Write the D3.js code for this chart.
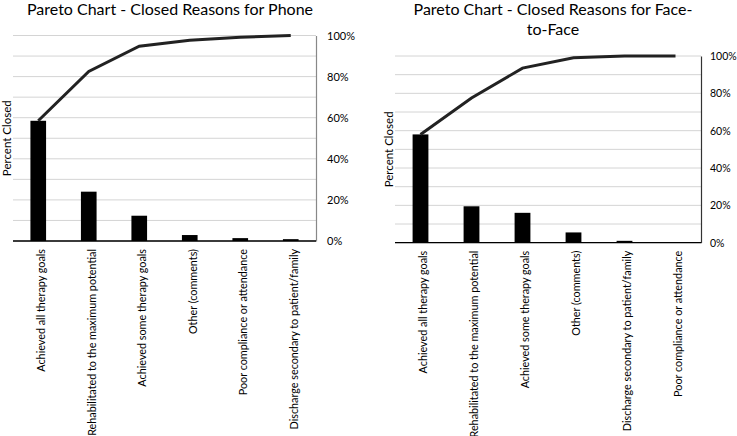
<!DOCTYPE html>
<html>
<head>
<meta charset="utf-8">
<script src="https://cdn.jsdelivr.net/npm/d3@7"></script>
<style>
  body { margin: 0; background: #fff; }
  svg { font-family: Lato, "Open Sans", sans-serif; }
</style>
</head>
<body>
<svg width="737" height="436"></svg>
<script>
// phone chart
var phoneReasons = ["Achieved all therapy goals", "Rehabilitated to the maximum potential",
    "Achieved some therapy goals", "Other (comments)", "Poor compliance or attendance",
    "Discharge secondary to patient/family"];
var phoneValues = [58.5, 24, 12.3, 2.9, 1.4, 0.9];

// face-to-face chart
var faceReasons = ["Achieved all therapy goals", "Rehabilitated to the maximum potential",
    "Achieved some therapy goals", "Other (comments)", "Discharge secondary to patient/family",
    "Poor compliance or attendance"];
var faceValues = [58, 19.5, 16, 5.5, 1, 0];

var pctTicks = [0, 20, 40, 60, 80, 100];
var gridTicks = d3.range(0, 101, 10);

var svg = d3.select("svg");

function pareto(opts) {
    var g = svg.append("g");

    var x = d3.scaleBand()
        .domain(opts.reasons)
        .range([opts.left, opts.right])
        .paddingInner(0.69)
        .paddingOuter(0.345);

    var y = d3.scaleLinear()
        .domain([0, 100])
        .range([opts.bottom, opts.top]);

    // gridlines
    g.selectAll("line.grid")
        .data(gridTicks)
        .enter()
        .append("line")
        .attr("class", "grid")
        .attr("x1", opts.left)
        .attr("x2", opts.right)
        .attr("y1", function(d) { return y(d); })
        .attr("y2", function(d) { return y(d); })
        .attr("stroke", "#d4d4d4")
        .attr("stroke-width", 1);

    // bars
    g.selectAll("rect")
        .data(opts.values)
        .enter()
        .append("rect")
        .attr("x", function(d, i) { return x(opts.reasons[i]); })
        .attr("width", x.bandwidth())
        .attr("y", function(d) { return y(d); })
        .attr("height", function(d) { return y(0) - y(d); })
        .attr("fill", "#000");

    // cumulative line
    var cum = 0;
    var cumData = opts.values.map(function(v, i) {
        cum += v;
        return { name: opts.reasons[i], c: cum };
    });
    var line = d3.line()
        .x(function(d) { return x(d.name) + x.bandwidth() / 2; })
        .y(function(d) { return y(d.c); });
    g.append("path")
        .datum(cumData)
        .attr("d", line)
        .attr("fill", "none")
        .attr("stroke", "#222")
        .attr("stroke-width", 3);

    // right axis
    var yAxis = d3.axisRight(y)
        .tickValues(pctTicks)
        .tickSize(0)
        .tickPadding(opts.tickPad)
        .tickFormat(function(d) { return d + "%"; });
    var ya = g.append("g")
        .attr("transform", "translate(" + opts.right + ",0)")
        .call(yAxis);
    ya.select(".domain").attr("stroke", opts.axisColor).attr("stroke-width", 1.2);
    ya.selectAll("text")
        .attr("font-size", opts.tickFont)
        .attr("font-family", "Lato, 'Open Sans', sans-serif")
        .attr("fill", "#000");

    // bottom axis
    var xAxis = d3.axisBottom(x).tickSize(0).tickPadding(0);
    var xa = g.append("g")
        .attr("transform", "translate(0," + opts.bottom + ")")
        .call(xAxis);
    xa.select(".domain").attr("stroke", "#000").attr("stroke-width", 1.3)
        .attr("d", "M" + opts.left + ",0H" + opts.right);
    xa.selectAll("text")
        .attr("font-size", 10.8)
        .attr("font-family", "Lato, 'Open Sans', sans-serif")
        .attr("fill", "#000")
        .attr("text-anchor", "end")
        .attr("x", -8)
        .attr("y", 0)
        .attr("dx", 0)
        .attr("dy", "0.35em")
        .attr("transform", "translate(3,0) rotate(-90)");

    // y label
    g.append("text")
        .attr("transform", "translate(" + opts.ylabelX + "," + ((opts.top + opts.bottom) / 2) + ") rotate(-90)")
        .attr("text-anchor", "middle")
        .attr("dy", "0.35em")
        .attr("font-size", 11.5)
        .attr("fill", "#000")
        .text("Percent Closed");

    // title
    var t = g.append("text")
        .attr("text-anchor", "middle")
        .attr("font-size", 16)
        .attr("fill", "#000");
    opts.title.forEach(function(s, i) {
        t.append("tspan")
            .attr("x", opts.titleX)
            .attr("y", opts.titleY + i * 20)
            .text(s);
    });
}

pareto({
    reasons: phoneReasons, values: phoneValues,
    left: 13, right: 316, top: 35.5, bottom: 241,
    axisColor: "#888", ylabelX: 7, tickPad: 11, tickFont: 11,
    title: ["Pareto Chart - Closed Reasons for Phone"], titleX: 170, titleY: 15
});

pareto({
    reasons: faceReasons, values: faceValues,
    left: 395, right: 701, top: 56, bottom: 242.7,
    axisColor: "#333", ylabelX: 389, tickPad: 9, tickFont: 10.5,
    title: ["Pareto Chart - Closed Reasons for Face-", "to-Face"], titleX: 553, titleY: 15
});
</script>
</body>
</html>
